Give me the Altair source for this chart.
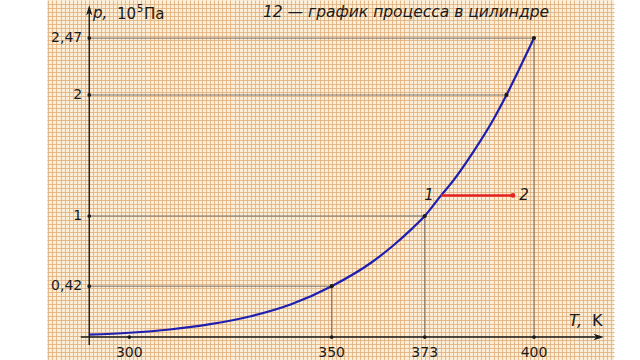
import numpy as np
import pandas as pd
import altair as alt

# ---- data ----
T_curve = [290, 300, 310, 320, 330, 340, 350, 360, 365, 370, 373, 376.8, 380, 385, 390, 393.2, 396, 400]
p_curve = [0.019, 0.035, 0.062, 0.106, 0.172, 0.271, 0.42, 0.62, 0.75, 0.90, 1.0, 1.16, 1.29, 1.53, 1.80, 2.0, 2.19, 2.47]

x_ticks = [300, 350, 373, 400]
x_tick_labels = ["300", "350", "373", "400"]
y_ticks = [0.42, 1, 2, 2.47]
y_tick_labels = ["0,42", "1", "2", "2,47"]

mark_T = [350, 373, 393.2, 400]
mark_p = [0.42, 1, 2, 2.47]
vert_T = [350, 373, 400]
vert_p = [0.42, 1, 2.47]

proc_T = [377, 394.8]
proc_p = [1.17, 1.17]
proc_labels = ["1", "2"]

T_axis = 290.1          # where the p-axis stands
x_axis_span = [288, 416]
y_axis_span = [-0.066, 2.70]

# ---- scales / background grid ----
xs = alt.Scale(domain=[279.66, 419.77], nice=False, zero=False)
ys = alt.Scale(domain=[-0.19, 2.785], nice=False, zero=False)
grid_x = [float(v) for v in np.arange(280, 420, 1.0)]
grid_y = [round(float(v), 4) for v in np.arange(-0.19, 2.785, 4 / 121)]
GRID = "#e0b07e"
xaxis = alt.Axis(values=grid_x, grid=True, gridColor=GRID, gridWidth=0.85, labels=False,
                 ticks=False, domain=False, title=None)
yaxis = alt.Axis(values=grid_y, grid=True, gridColor=GRID, gridWidth=0.85, labels=False,
                 ticks=False, domain=False, title=None)


def X(f):
    return alt.X(f, type="quantitative", scale=xs, axis=xaxis)


def Y(f):
    return alt.Y(f, type="quantitative", scale=ys, axis=yaxis)


FONT = "DejaVu Sans"
INK = "#1a1a1a"

df_curve = pd.DataFrame({"T": T_curve, "p": p_curve})
df_h = pd.DataFrame({"T": [T_axis] * len(mark_T), "T2": mark_T, "p": mark_p})
df_v = pd.DataFrame({"T": vert_T, "p": [0] * len(vert_T), "p2": vert_p})
df_xaxis = pd.DataFrame({"T": [x_axis_span[0]], "T2": [x_axis_span[1]], "p": [0]})
df_yaxis = pd.DataFrame({"T": [T_axis], "p": [y_axis_span[0]], "p2": [y_axis_span[1]]})
df_xt = pd.DataFrame({"T": x_ticks, "p": [0] * 4, "lab": x_tick_labels})
df_yt = pd.DataFrame({"T": [T_axis] * 4, "p": y_ticks, "lab": y_tick_labels})
df_marks = pd.DataFrame({"T": mark_T, "p": mark_p})
df_proc = pd.DataFrame({"T": proc_T, "p": proc_p, "lab": proc_labels})
df_arrow_up = pd.DataFrame({"T": [T_axis], "p": [y_axis_span[1]]})
df_arrow_r = pd.DataFrame({"T": [x_axis_span[1]], "p": [0]})

curve = alt.Chart(df_curve).mark_line(color="#1e1eb0", strokeWidth=2.2, interpolate="monotone").encode(
    x=X("T"), y=Y("p"))

guides_h = alt.Chart(df_h).mark_rule(color="#555555", strokeWidth=0.8).encode(
    x=X("T"), x2="T2", y=Y("p"))
guides_v = alt.Chart(df_v).mark_rule(color="#555555", strokeWidth=0.8).encode(
    x=X("T"), y=Y("p"), y2="p2")

xaxis_line = alt.Chart(df_xaxis).mark_rule(color=INK, strokeWidth=1.4).encode(
    x=X("T"), x2="T2", y=Y("p"))
yaxis_line = alt.Chart(df_yaxis).mark_rule(color=INK, strokeWidth=1.4).encode(
    x=X("T"), y=Y("p"), y2="p2")

ARROW = "M0,-1L0.6,1L0,0.45L-0.6,1Z"
arrow_up = alt.Chart(df_arrow_up).mark_point(shape=ARROW, filled=True, color=INK, size=110, opacity=1).encode(
    x=X("T"), y=Y("p"))
arrow_r = alt.Chart(df_arrow_r).mark_point(shape=ARROW, filled=True, color=INK, size=110, angle=90, opacity=1).encode(
    x=X("T"), y=Y("p"))

proc_line = alt.Chart(df_proc).mark_line(color="#e52222", strokeWidth=2.6).encode(x=X("T"), y=Y("p"))
proc_end = alt.Chart(df_proc.iloc[[1]]).mark_point(filled=True, color="#e52222", size=22, opacity=1).encode(
    x=X("T"), y=Y("p"))

xt_dots = alt.Chart(df_xt).mark_point(filled=True, color=INK, size=14, opacity=1).encode(x=X("T"), y=Y("p"))
yt_dots = alt.Chart(df_yt).mark_point(filled=True, color=INK, size=14, opacity=1).encode(x=X("T"), y=Y("p"))
mk_dots = alt.Chart(df_marks).mark_point(filled=True, color=INK, size=18, opacity=1).encode(x=X("T"), y=Y("p"))

xt_text = alt.Chart(df_xt).mark_text(font=FONT, fontSize=14, color=INK, dy=16, baseline="middle").encode(
    x=X("T"), y=Y("p"), text="lab")
yt_text = alt.Chart(df_yt).mark_text(font=FONT, fontSize=14, color=INK, dx=-7, align="right", baseline="middle").encode(
    x=X("T"), y=Y("p"), text="lab")

proc_text1 = alt.Chart(df_proc.iloc[[0]]).mark_text(font=FONT, fontSize=15, fontStyle="italic", color=INK,
                                                    baseline="middle", dx=-12).encode(
    x=X("T"), y=Y("p"), text="lab")
proc_text2 = alt.Chart(df_proc.iloc[[1]]).mark_text(font=FONT, fontSize=15, fontStyle="italic", color=INK,
                                                    baseline="middle", dx=11).encode(
    x=X("T"), y=Y("p"), text="lab")

title = alt.Chart(pd.DataFrame({"t": ["12 — график процесса в цилиндре"]})).mark_text(
    font=FONT, fontSize=15.5, fontStyle="italic", color=INK, baseline="middle", align="center").encode(
    x=alt.value(359), y=alt.value(12), text="t")


def label(txt, x, y, size=15, italic=False):
    kw = dict(font=FONT, fontSize=size, color=INK, align="left", baseline="middle")
    if italic:
        kw["fontStyle"] = "italic"
    return alt.Chart(pd.DataFrame({"t": [txt]})).mark_text(**kw).encode(
        x=alt.value(x), y=alt.value(y), text="t")


p_lab = label("p,", 46, 13, 15, True)
p_10 = label("10", 70, 14, 15)
p_5 = label("5", 90, 9, 10)
p_pa = label("Па", 97, 14, 15)
t_lab1 = label("T,", 522, 321, 16, True)
t_lab2 = label("K", 545, 321, 16)

chart = alt.layer(
    curve, guides_h, guides_v, xaxis_line, yaxis_line, arrow_up, arrow_r,
    proc_line, proc_end, xt_dots, yt_dots, mk_dots, xt_text, yt_text, proc_text1, proc_text2,
    title, p_lab, p_10, p_5, p_pa, t_lab1, t_lab2
).properties(
    width=567, height=360, autosize="none",
    padding={"left": 47, "top": 0, "right": 26, "bottom": 0},
    background="white"
).configure_view(fill="#fcedd7", stroke=None)

chart.save("out.html", embed_options={"renderer": "svg", "actions": False})
